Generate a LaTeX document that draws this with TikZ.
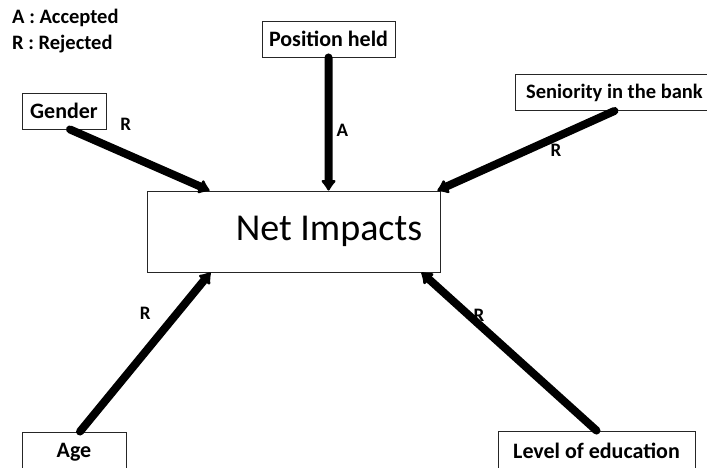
\documentclass[tikz,border=0pt]{standalone}
\usepackage{fontspec}
\setmainfont{Carlito}
\usetikzlibrary{arrows.meta,positioning}
\tikzstyle{factor} = [rectangle, draw=black!85, line width=0.9pt, font=\fontsize{22}{24}\selectfont\bfseries, inner xsep=6pt, minimum height=36pt]
\tikzstyle{link} = [line width=8pt, line cap=round, -{Latex[round,length=12pt,width=18pt]}]
\tikzstyle{tag} = [font=\fontsize{19}{22}\selectfont\bfseries, inner sep=3pt]

\begin{document}
\begin{tikzpicture}[x=1pt, y=1pt]
      \clip (0,0) rectangle (707,467);
      \node[tag, anchor=west, font=\fontsize{20.5}{22}\selectfont\bfseries] (acc) at (9,449) { A : Accepted };
      \node[tag, anchor=west, font=\fontsize{20.5}{22}\selectfont\bfseries] (rej) at (9,423) { R : Rejected };
      \node[rectangle, draw=black!85, line width=0.9pt, minimum width=293pt, minimum height=81pt, font=\fontsize{38}{40}\selectfont] (net) at (293.5,235.5) { \hspace*{71pt}Net Impacts };
      \node[factor, minimum width=84pt] (gender) at (64,356) { Gender };
      \node[factor, minimum width=133pt] (pos) at (328.5,428) { Position held };
      \node[factor, anchor=west, minimum width=198pt, font=\fontsize{20.5}{24}\selectfont\bfseries] (sen) at (515,374.5) { Seniority in the bank };
      \node[factor, minimum width=104pt, minimum height=40pt] (age) at (74,15) { Age };
      \node[factor, minimum width=197pt, minimum height=40pt] (edu) at (596.5,16) { Level of education };
      \draw[link] ([xshift=6pt]gender.south) -- node[tag, pos=.4, above=16pt] { R } ([xshift=63pt]net.north west);
      \draw[link] (pos.south) -- node[tag, pos=.55, right=1pt] { A } ([xshift=182pt]net.north west);
      \draw[link] (sen.south) -- node[tag, pos=.33, below] { R } ([xshift=-3pt]net.north east);
      \draw[link] ([xshift=6pt]age.north) -- node[tag, pos=.74, left=19pt] { R } ([xshift=64pt]net.south west);
      \draw[link] (edu.north) -- node[tag, pos=.73, right=-2pt] { R } ([xshift=-19pt]net.south east);
    \end{tikzpicture}
\end{document}
